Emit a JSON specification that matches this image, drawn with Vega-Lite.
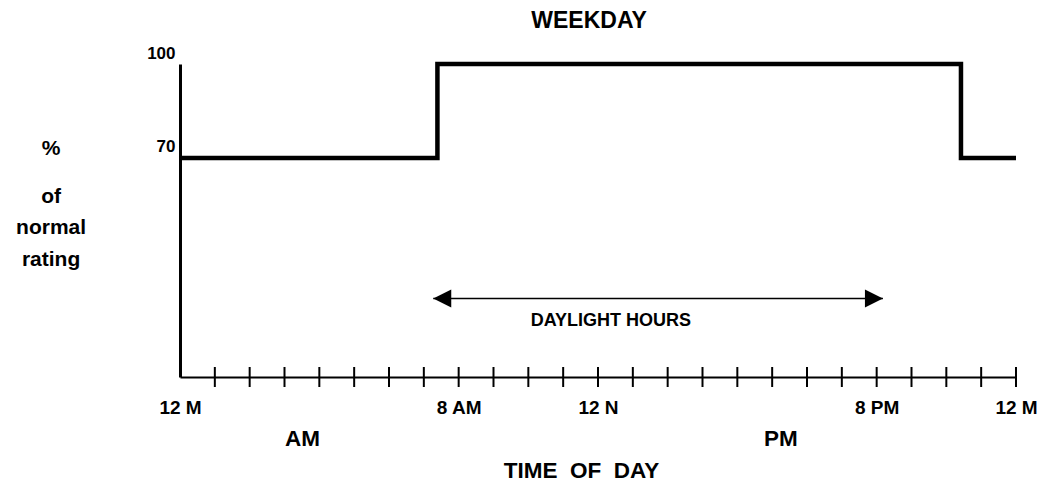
{
  "$schema": "https://vega.github.io/schema/vega-lite/v6.json",
  "width": 836,
  "height": 313,
  "autosize": {"type": "none"},
  "padding": {"left": 180, "top": 64, "right": 25, "bottom": 106},
  "background": "white",
  "config": {"view": {"stroke": null}, "font": "Liberation Sans"},
  "title": {
    "text": "WEEKDAY",
    "font": "Liberation Sans",
    "fontSize": 23,
    "fontWeight": "bold",
    "color": "black",
    "anchor": "middle",
    "baseline": "alphabetic",
    "dx": -9,
    "dy": 23,
    "offset": 16
  },
  "encoding": {
    "x": {
      "field": "h",
      "type": "quantitative",
      "scale": {"domain": [0, 24], "nice": false, "zero": false},
      "axis": {
        "title": "TIME\u00a0\u00a0OF\u00a0\u00a0DAY",
        "values": [0, 8, 12, 20, 24],
        "labelExpr": "datum.value == 8 ? '8 AM' : datum.value == 12 ? '12 N' : datum.value == 20 ? '8 PM' : '12 M'",
        "grid": false,
        "ticks": false,
        "tickSize": 0,
        "domainColor": "black",
        "domainWidth": 2,
        "labelFont": "Liberation Sans",
        "labelFontSize": 19,
        "labelFontWeight": "bold",
        "labelColor": "black",
        "labelPadding": 21,
        "labelFlush": false,
        "labelOverlap": false,
        "titleFont": "Liberation Sans",
        "titleFontSize": 22.5,
        "titleFontWeight": "bold",
        "titleColor": "black",
        "titleBaseline": "alphabetic",
        "titleAlign": "center",
        "titleX": 401,
        "titleY": 100
      }
    },
    "y": {
      "field": "p",
      "type": "quantitative",
      "scale": {"domain": [0, 100], "nice": false, "zero": false},
      "axis": {
        "title": null,
        "values": [70, 100],
        "grid": false,
        "ticks": false,
        "tickSize": 0,
        "domainColor": "black",
        "domainWidth": 3,
        "labelFont": "Liberation Sans",
        "labelFontSize": 17,
        "labelFontWeight": "bold",
        "labelColor": "black",
        "labelPadding": 5,
        "labelBaseline": "alphabetic",
        "labelOffset": -6,
        "labelFlush": false
      }
    }
  },
  "layer": [
    {
      "data": {"values": [
        {"h": 0, "p": 70},
        {"h": 7.39, "p": 100},
        {"h": 22.42, "p": 70},
        {"h": 24, "p": 70}
      ]},
      "mark": {"type": "line", "interpolate": "step-after", "color": "black", "strokeWidth": 4.5, "strokeJoin": "miter", "strokeCap": "butt"}
    },
    {
      "data": {"values": [
        {"h": 1, "p": 0}, {"h": 2, "p": 0}, {"h": 3, "p": 0}, {"h": 4, "p": 0},
        {"h": 5, "p": 0}, {"h": 6, "p": 0}, {"h": 7, "p": 0}, {"h": 8, "p": 0},
        {"h": 9, "p": 0}, {"h": 10, "p": 0}, {"h": 11, "p": 0}, {"h": 12, "p": 0},
        {"h": 13, "p": 0}, {"h": 14, "p": 0}, {"h": 15, "p": 0}, {"h": 16, "p": 0},
        {"h": 17, "p": 0}, {"h": 18, "p": 0}, {"h": 19, "p": 0}, {"h": 20, "p": 0},
        {"h": 21, "p": 0}, {"h": 22, "p": 0}, {"h": 23, "p": 0}, {"h": 24, "p": 0}
      ]},
      "mark": {"type": "tick", "orient": "vertical", "size": 20, "thickness": 2, "color": "black", "opacity": 1}
    },
    {
      "data": {"values": [{"h": 7.27, "h2": 20.18, "p": 25.1}]},
      "layer": [
        {
          "mark": {"type": "rule", "color": "black", "strokeWidth": 1.5},
          "encoding": {"x2": {"field": "h2"}}
        },
        {
          "mark": {"type": "point", "shape": "M-1,0L1,-1L1,1Z", "size": 324, "filled": true, "color": "black", "opacity": 1, "strokeWidth": 0, "xOffset": 9}
        },
        {
          "mark": {"type": "point", "shape": "M1,0L-1,-1L-1,1Z", "size": 324, "filled": true, "color": "black", "opacity": 1, "strokeWidth": 0, "xOffset": -9},
          "encoding": {"x": {"field": "h2", "type": "quantitative", "scale": {"domain": [0, 24], "nice": false, "zero": false}}}
        }
      ]
    },
    {
      "data": {"values": [{"h": 12.37, "p": 17.9, "t": "DAYLIGHT HOURS"}]},
      "mark": {"type": "text", "font": "Liberation Sans", "fontSize": 18, "fontWeight": "bold", "color": "black", "align": "center", "baseline": "middle"},
      "encoding": {"text": {"field": "t"}}
    },
    {
      "data": {"values": [
        {"h": 3.52, "p": -19.9, "t": "AM"},
        {"h": 17.25, "p": -19.9, "t": "PM"}
      ]},
      "mark": {"type": "text", "font": "Liberation Sans", "fontSize": 22.5, "fontWeight": "bold", "color": "black", "align": "center", "baseline": "middle"},
      "encoding": {"text": {"field": "t"}}
    },
    {
      "data": {"values": [
        {"h": -3.7, "p": 72.9, "t": "%"},
        {"h": -3.7, "p": 57.4, "t": "of"},
        {"h": -3.7, "p": 47.5, "t": "normal"},
        {"h": -3.7, "p": 37.5, "t": "rating"}
      ]},
      "mark": {"type": "text", "font": "Liberation Sans", "fontSize": 21, "fontWeight": "bold", "color": "black", "align": "center", "baseline": "middle"},
      "encoding": {"text": {"field": "t"}}
    }
  ]
}
